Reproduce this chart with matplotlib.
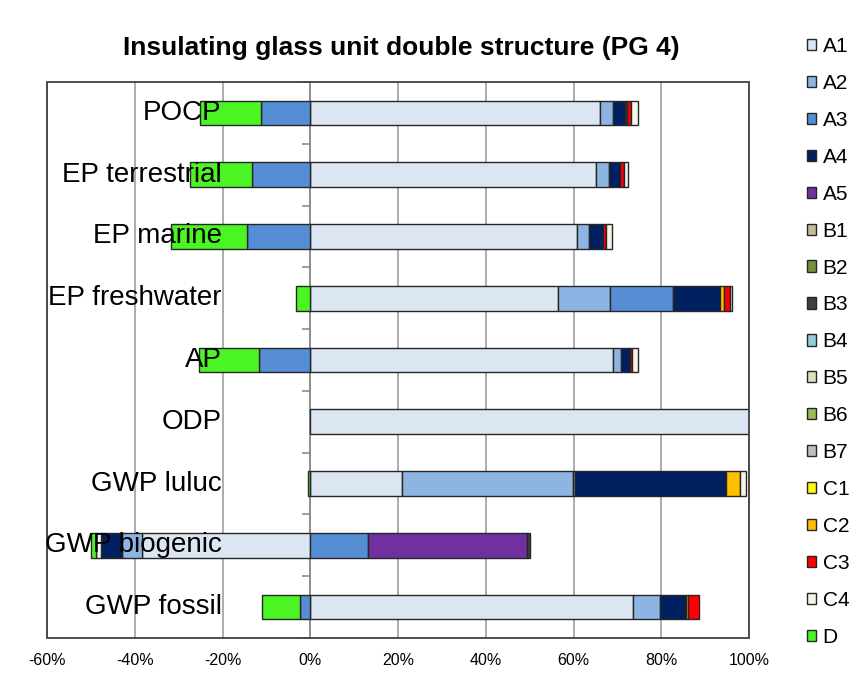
import numpy as np
import matplotlib
matplotlib.use("Agg")
import matplotlib.pyplot as plt
from matplotlib.patches import Patch, Rectangle

plt.rcParams['font.family'] = ['Liberation Sans', 'DejaVu Sans']

# categories, top to bottom
categories = ["POCP", "EP terrestrial", "EP marine", "EP freshwater", "AP",
              "ODP", "GWP luluc", "GWP biogenic", "GWP fossil"]

# share of each module in %, same order as categories
A1 = [66.0, 65.2, 60.7, 56.5, 69.0, 100.0, 21.0, -38.3, 73.6]
A2 = [2.9, 2.9, 2.9, 11.8, 1.9, 0, 38.8, -4.6, 6.1]
A3 = [-11.2, -13.3, -14.4, 14.3, -11.6, 0, 0.6, 13.1, -2.4]
A4 = [2.8, 2.5, 3.2, 10.9, 1.9, 0, 34.3, -4.8, 5.9]
A5 = [0, 0, 0, 0, 0, 0, 0, 36.2, 0]
B1 = [0, 0, 0, 0, 0, 0, 0, 0, 0]
B2 = [0, 0, 0, 0, 0, 0, 0, 0, 0]
B3 = [0.6, 0, 0, 0, 0, 0, 0, 0.7, 0]
B4 = [0, 0, 0, 0, 0, 0, 0, 0, 0]
B5 = [0, 0, 0, 0, 0, 0, 0, 0, 0]
B6 = [0, 0, 0, 0, 0, 0, 0, 0, 0]
B7 = [0, 0, 0, 0, 0, 0, 0, 0, 0]
C1 = [0, 0, 0, 0, 0, 0, 0, 0, 0]
C2 = [0, 0, 0, 0.8, 0, 0, 3.2, 0, 0.6]
C3 = [0.7, 0.9, 0.6, 1.3, 0.6, 0, 0, 0, 2.4]
C4 = [1.8, 1.0, 1.4, 0.6, 1.4, 0, 1.4, -1.1, 0]
D = [-13.9, -14.1, -17.3, -3.2, -13.7, 0, -0.6, -1.1, -8.5]

series_names = ["A1", "A2", "A3", "A4", "A5", "B1", "B2", "B3", "B4", "B5",
                "B6", "B7", "C1", "C2", "C3", "C4", "D"]
series_values = [A1, A2, A3, A4, A5, B1, B2, B3, B4, B5, B6, B7, C1, C2, C3, C4, D]
series_colors = ["#DCE6F2", "#8EB4E3", "#558ED5", "#002060", "#7030A0",
                 "#C4BD97", "#77933C", "#404040", "#93CDDD", "#D7E4BD",
                 "#9BBB59", "#BFBFBF", "#FFFF00", "#FFC000", "#FF0000",
                 "#F4F4E8", "#4BF524"]

x_ticks = [-60, -40, -20, 0, 20, 40, 60, 80, 100]

fig = plt.figure(figsize=(8.56, 6.73), dpi=100)
ax = fig.add_axes([47 / 856, 1 - 638 / 673, 702 / 856, 556 / 673])

n = len(categories)
y = np.arange(n)[::-1]
pos = np.zeros(n)
neg = np.zeros(n)
for name, vals, col in zip(series_names, series_values, series_colors):
    v = np.array(vals, dtype=float)
    left = np.where(v >= 0, pos, neg)
    m = v != 0
    if m.any():
        ax.barh(y[m], v[m], left=left[m], height=0.4, color=col,
                edgecolor="#262626", linewidth=1.0, zorder=3)
    pos += np.clip(v, 0, None)
    neg += np.clip(v, None, 0)

ax.set_xlim(-60, 100)
ax.set_ylim(-0.5, n - 0.5)

# grid
ax.set_xticks(x_ticks)
ax.set_xticklabels([f"{t}%" for t in x_ticks], fontsize=11.5)
ax.xaxis.grid(True, color="#A6A6A6", linewidth=1.3, zorder=0)
ax.set_axisbelow(True)
ax.tick_params(axis="x", length=0, pad=11)

# category axis at 0 with ticks between categories
for s in ["top", "right", "bottom"]:
    ax.spines[s].set_visible(False)
ax.spines["left"].set_position(("data", 0))
ax.spines["left"].set_color("#8C8C8C")
ax.spines["left"].set_linewidth(1.3)
ax.set_yticks(np.arange(n + 1) - 0.5)
ax.set_yticklabels([])
ax.tick_params(axis="y", length=6, color="#8C8C8C", width=1.2, direction="out")

# plot frame
ax.add_patch(Rectangle((0, 0), 1, 1, transform=ax.transAxes, fill=False,
                       edgecolor="#404040", linewidth=1.3, zorder=5, clip_on=False))

# category labels drawn over the bars
for yi, cat in zip(y, categories):
    ax.text(0.249, yi, cat, transform=ax.get_yaxis_transform(), ha="right",
            va="center", fontsize=20, zorder=6)

fig.text(401 / 856, 1 - 48 / 673, "Insulating glass unit double structure (PG 4)",
         ha="center", va="center", fontsize=19, fontweight="bold")

handles = [Patch(facecolor=c, edgecolor="#262626", linewidth=1.0) for c in series_colors]
fig.legend(handles, series_names, loc="upper left",
           bbox_to_anchor=(807 / 856, 1 - 37 / 673), frameon=False,
           fontsize=15, handlelength=0.45, handleheight=0.45,
           handletextpad=0.3, labelspacing=0.86, borderaxespad=0, borderpad=0)

fig.savefig("out.png", dpi=100)
